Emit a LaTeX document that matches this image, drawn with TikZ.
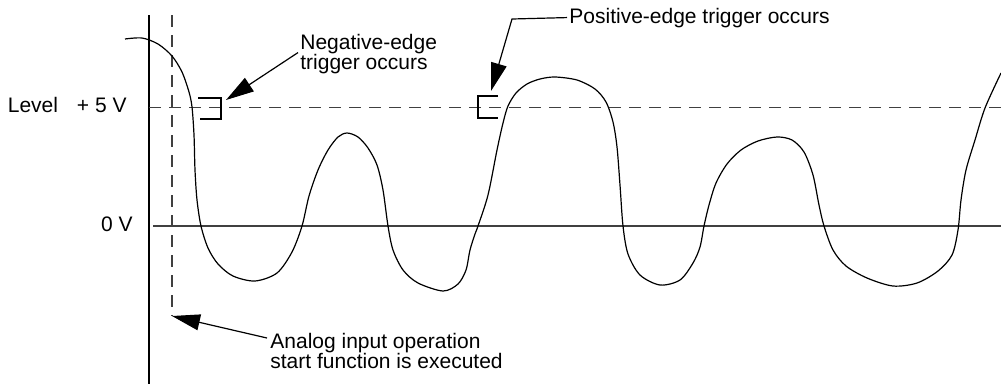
\documentclass[tikz,border=0pt]{standalone}
\usepackage{fontspec}
\setmainfont{Liberation Sans}
\usetikzlibrary{arrows.meta}
\begin{document}
\begin{tikzpicture}[x=0.5pt, y=-0.5pt, >={Triangle[length=14pt,width=8pt]},
    lbl/.style={inner sep=1pt, font=\fontsize{10.5}{10}\selectfont, align=left},
    refline/.style={line width=0.7pt, black!75},
    lvlline/.style={line width=0.6pt, black!75, dash pattern=on 6pt off 4pt},
    bracket/.style={line width=0.6pt},
    pointer/.style={->, line width=0.6pt}]

    \useasboundingbox (0,0) rectangle (1001,387);

    % 1. Eje vertical y linea de disparo
    \draw[line width=0.6pt] (149,15) -- (149,384);
    \draw[lvlline] (172,15) -- (172,316);

    % 2. Nivel +5 V y 0 V
    \draw[lvlline] (149,107.5) -- (1001,107.5);
    \draw[refline] (153,226) -- (1001,226);
    \node[lbl, anchor=base east] (lvl) at (129,112) {Level\hspace{0.9em}+ 5 V};
    \node[lbl, anchor=base east] (zero) at (135,231) {0 V};

    % 3. Senal analogica
    \draw[line width=0.6pt] plot[smooth, tension=0.5] coordinates {
        (125,39) (142,38) (158,44) (172,56) (182,72) (189,92) (192,107)
        (194,135) (195,170) (197,200) (201,226) (208,248) (218,264)
        (233,276) (255,281) (277,273) (292,252) (302,226) (309,196)
        (318,170) (328,150) (338,137) (347,133) (358,137) (368,148)
        (377,165) (383,190) (388,226) (393,250) (403,270) (418,283)
        (443,291) (458,284) (466,270) (470,250) (475,234) (478,226)
        (488,195) (497,150) (503,123) (508,106) (516,93) (527,84)
        (540,79) (555,77) (577,80) (595,89) (606,102) (613,122)
        (617,147) (620,185) (623,226) (628,254) (640,275)
        (660,285) (680,280) (693,263) (700,247) (704,226)
        (709,205) (716,183) (727,164) (741,150) (758,141) (777,137)
        (792,140) (804,152) (813,175) (819,205) (824,226) (833,250)
        (846,266) (867,278) (893,286) (917,283) (938,271) (952,255)
        (958,230) (961,200) (966,170) (975,140) (985,108)
        (1001,73)};

    % 4. Marcas de disparo
    \draw[bracket] (198,98) -- (221,98) -- (221,119) -- (200,119);
    \draw[bracket] (498,96) -- (478,96) -- (478,118) -- (498,118);
    \coordinate (negtip) at (226,100);
    \coordinate (postip) at (491,91);
    \coordinate (posbend) at (512,19);
    \coordinate (anatip) at (172,316);
    \coordinate (anafrom) at (267,338);

    % 5. Textos y flechas
    \node[lbl, anchor=base west] (negtxt) at (298,69) {Negative-edge\\trigger occurs};
    \node[lbl, anchor=base west] (postxt) at (567,23) {Positive-edge trigger occurs};
    \node[lbl, anchor=base west] (anatxt) at (268,368) {Analog input operation\\start function is executed};

    \draw[pointer] ([yshift=0.5pt]negtxt.west) -- (negtip);
    \draw[pointer] (postxt.west) -- (posbend) -- (postip);
    \draw[pointer] (anafrom) -- (anatip);

\end{tikzpicture}
\end{document}
